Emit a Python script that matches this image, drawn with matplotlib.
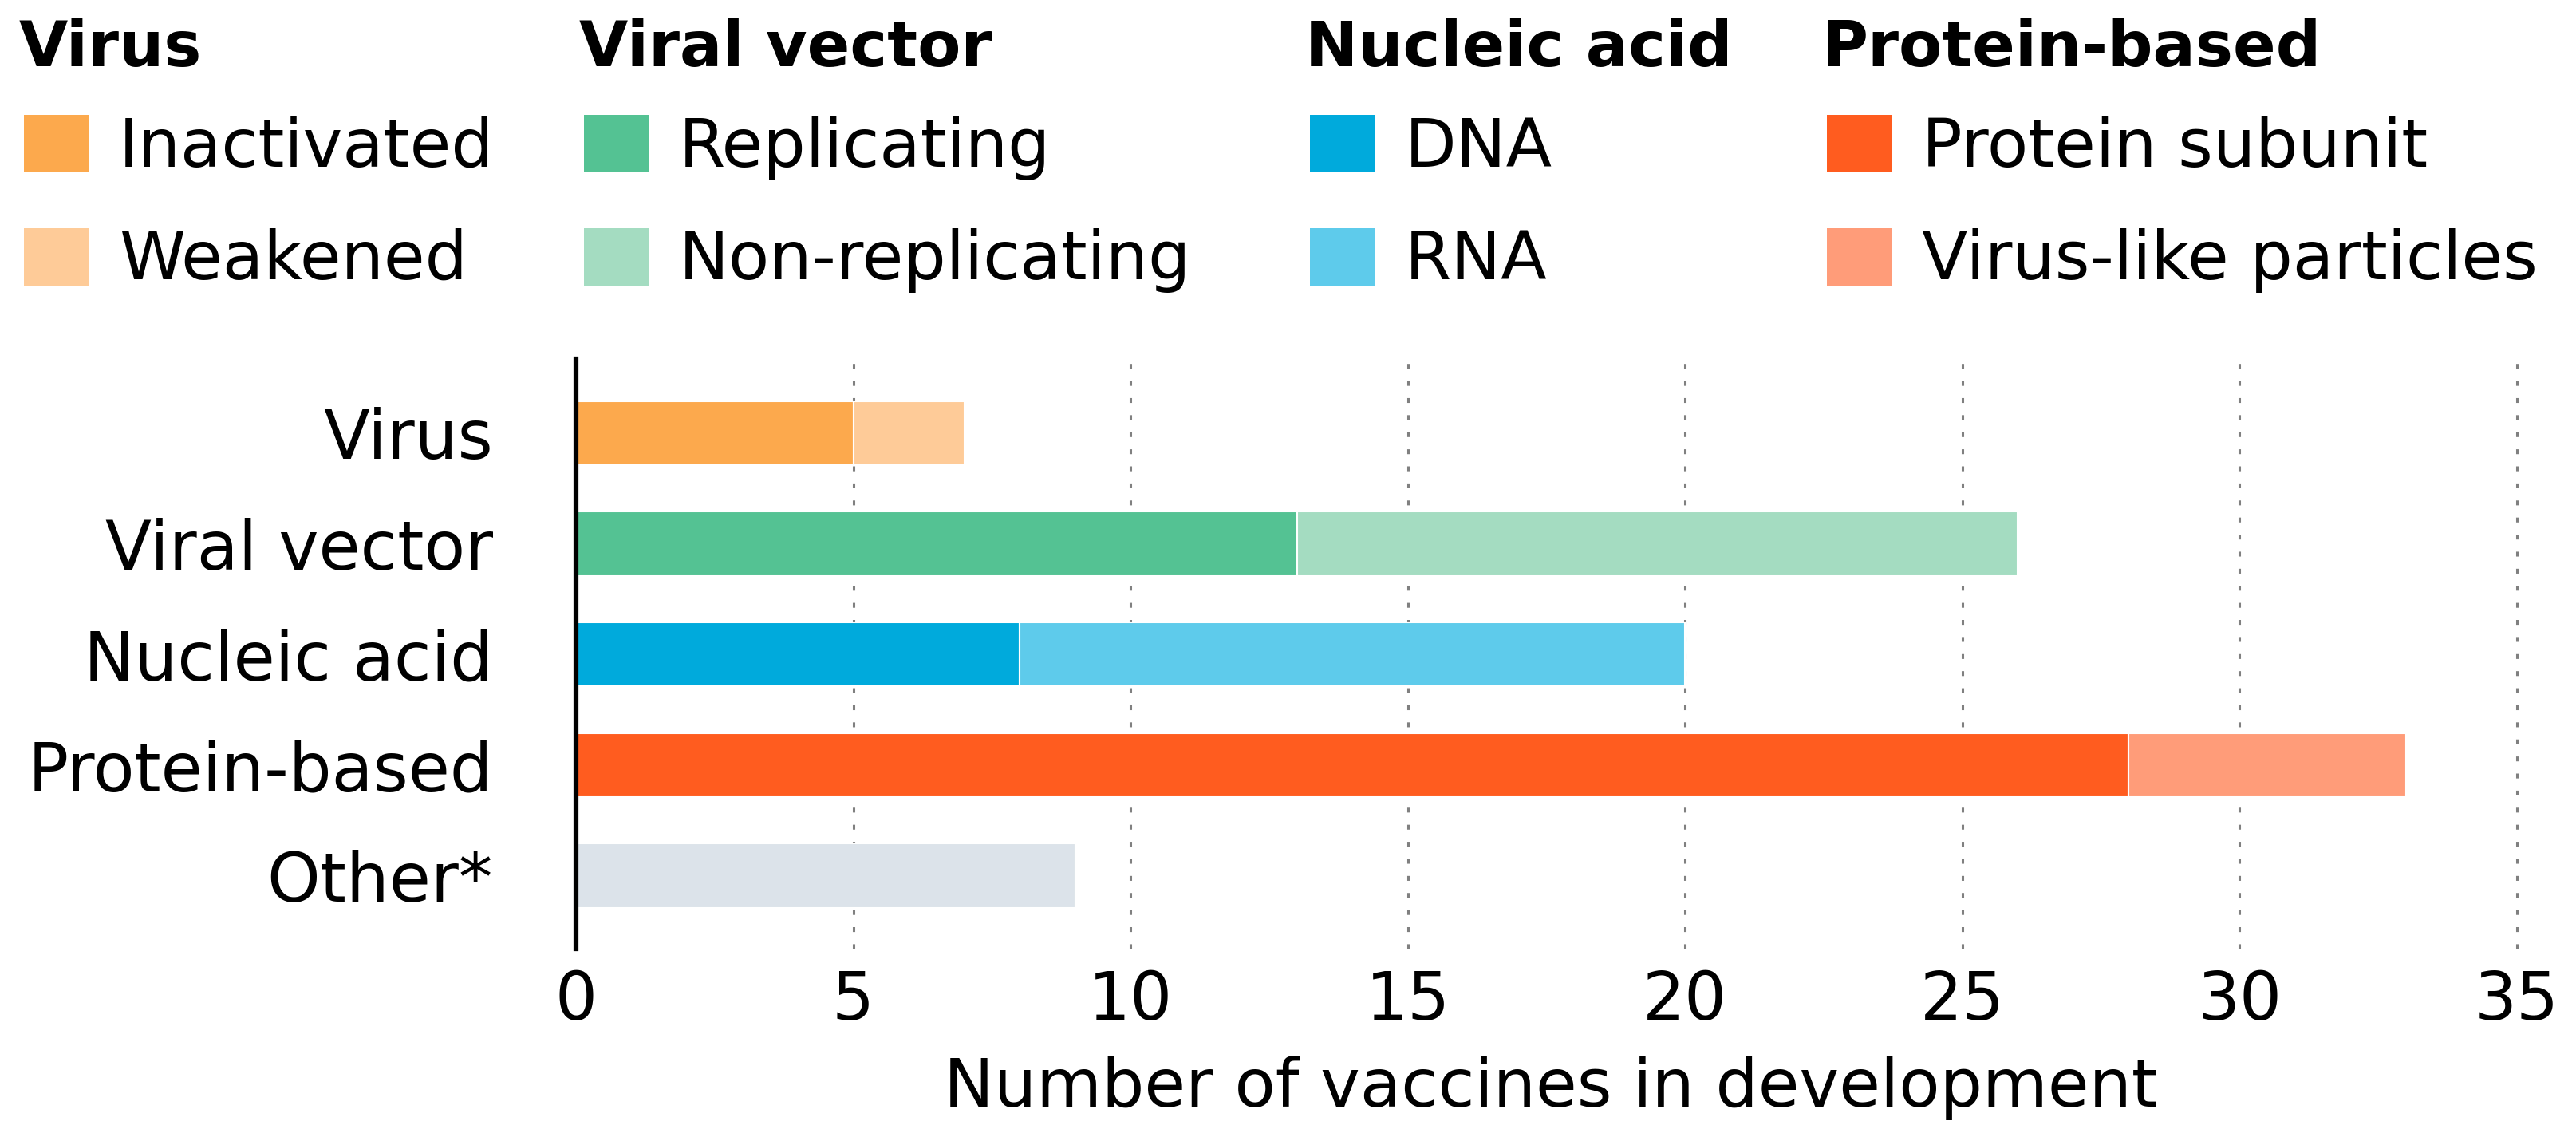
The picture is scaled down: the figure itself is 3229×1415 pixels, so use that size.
"""Vaccine candidates in development, by platform (stacked horizontal bars)."""

import matplotlib
matplotlib.use('Agg')
import matplotlib.pyplot as plt
from matplotlib.patches import Rectangle

plt.rcParams['font.family'] = ['DejaVu Sans']

W, H = 3230, 1415

categories = ['Virus', 'Viral vector', 'Nucleic acid', 'Protein-based', 'Other*']
first_labels = ['Inactivated', 'Replicating', 'DNA', 'Protein subunit', None]
second_labels = ['Weakened', 'Non-replicating', 'RNA', 'Virus-like particles', None]
first_values = [5, 13, 8, 28, 9]
second_values = [2, 13, 12, 5, 0]
first_colors = ['#fca94d', '#54c293', '#00aadc', '#ff5c1f', '#dce3ea']
second_colors = ['#fecb98', '#a4dcc1', '#5ecbeb', '#ff9c79', '#dce3ea']
x_ticks = [0, 5, 10, 15, 20, 25, 30, 35]
x_label = 'Number of vaccines in development'


def fx(px):
    return px / W


def fy(py):
    return 1 - py / H


def draw_legend(fig):
    title_x = [24, 726, 1636, 2284]
    patch_top = [144, 286]
    baseline = [209, 350]
    for i in range(4):
        fig.text(fx(title_x[i]), fy(83), categories[i], fontsize=57,
                 fontweight='bold', va='baseline', ha='left')
        px = title_x[i] + 6
        for row, (lab, col) in enumerate([(first_labels[i], first_colors[i]),
                                          (second_labels[i], second_colors[i])]):
            top = patch_top[row]
            fig.add_artist(Rectangle((fx(px), fy(top + 72)), fx(82), 72 / H,
                                     transform=fig.transFigure, color=col, lw=0))
            fig.text(fx(px + 119), fy(baseline[row]), lab, fontsize=60.5,
                     va='baseline', ha='left')


def main():
    fig = plt.figure(figsize=(W / 100, H / 100), dpi=100)
    # 0..35 spans 722..3155 px; leave a hair of room so the 35 gridline isn't clipped
    ax = fig.add_axes([fx(722), fy(1189), fx(3161 - 722), (1189 - 450) / H])

    ypos = list(range(len(categories)))
    ax.barh(ypos, first_values, height=0.58, color=first_colors,
            edgecolor='white', linewidth=1.5, zorder=3)
    ax.barh(ypos, second_values, left=first_values, height=0.58,
            color=second_colors, edgecolor='white', linewidth=1.5, zorder=3)

    ax.set_xlim(0, 35.09)
    ax.set_ylim(4.66, -0.67)
    ax.set_xticks(x_ticks)
    ax.set_yticks(ypos)
    ax.set_yticklabels(categories)
    ax.tick_params(axis='y', length=0, pad=75, labelsize=61)
    ax.tick_params(axis='x', length=0, pad=18, labelsize=60)
    ax.xaxis.grid(True, color='#808080', linewidth=2.2,
                  linestyle=(0, (2, 5)), zorder=0)
    ax.set_axisbelow(True)
    for side in ['top', 'right', 'bottom']:
        ax.spines[side].set_visible(False)
    ax.spines['left'].set_linewidth(4.5)
    ax.spines['left'].set_zorder(5)

    fig.text(fx(1944), fy(1387), x_label, fontsize=60.5, ha='center', va='baseline')

    draw_legend(fig)
    fig.savefig('out.png', dpi=100)
    plt.close(fig)


if __name__ == '__main__':
    main()
